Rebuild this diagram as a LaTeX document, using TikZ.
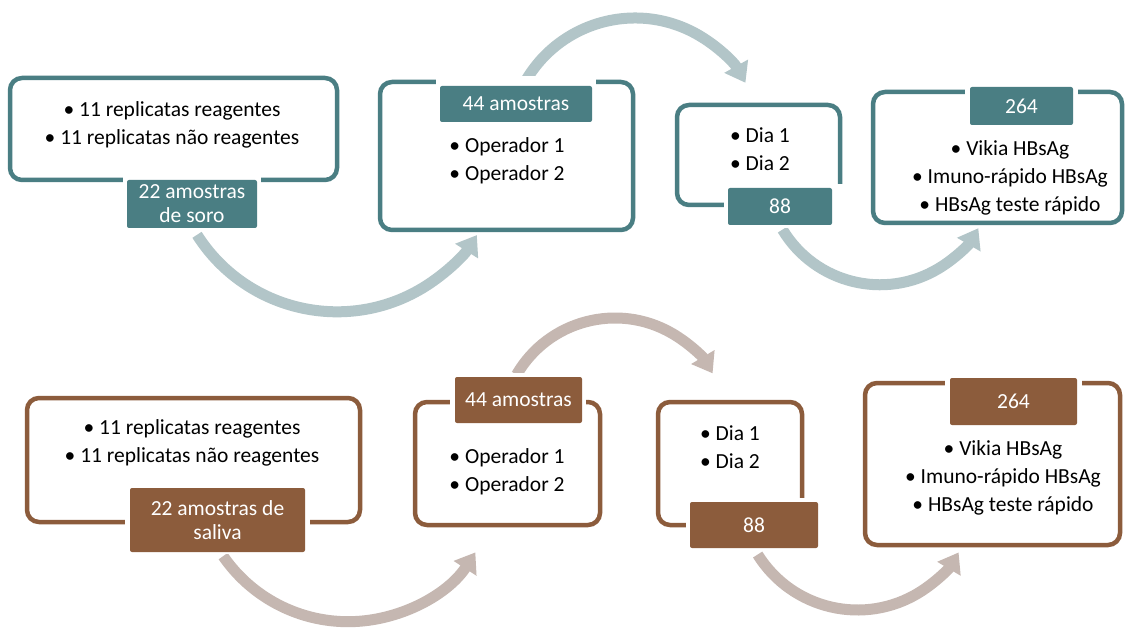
\documentclass[tikz,border=0pt]{standalone}
\usepackage{fontspec}
\setmainfont{Carlito}
\usetikzlibrary{arrows.meta}
\definecolor{tealdk}{RGB}{74,126,131}
\definecolor{tealarr}{RGB}{178,197,200}
\definecolor{browndk}{RGB}{140,92,60}
\definecolor{brownarr}{RGB}{197,183,177}
\begin{document}
\begin{tikzpicture}[x=1pt,y=-1pt,
  frame/.style={draw=#1, line width=4.5pt, rounded corners=12pt, fill=white, inner sep=0pt},
  tagbox/.style={fill=#1, text=white, rounded corners=2pt, inner sep=0pt, align=center,
                 font=\fontsize{21.5}{24}\selectfont},
  body/.style={align=center, inner sep=0pt, text=black, font=\fontsize{21.5}{28}\selectfont},
  flow/.style={draw=#1, line width=11pt, -{Triangle[width=26pt,length=19pt]}},
]
\fill[white] (0,0) rectangle (1127,628);
\useasboundingbox (0,0) rectangle (1127,628);

% ---------- curved arrows (drawn first, boxes sit on top) ----------
\path (337,146) ++(147.6:165.8) coordinate (ta1);
\path (635,144.5) ++(209.6:126.5) coordinate (ta2);
\path (880,171) ++(149:113.75) coordinate (ta3);
\path (348,470) ++(145.4:151.7) coordinate (ba1);
\path (615,431.75) ++(210.1:113.75) coordinate (ba2);
\path (857.5,492.4) ++(148.1:117.6) coordinate (ba3);

\draw[flow=tealarr] (ta1) arc[start angle=147.6, end angle=32.5, radius=165.8];
\draw[flow=tealarr] (ta2) arc[start angle=209.6, end angle=330.8, radius=126.5];
\draw[flow=tealarr] (ta3) arc[start angle=149, end angle=30.2, radius=113.75];
\draw[flow=brownarr] (ba1) arc[start angle=145.4, end angle=32.9, radius=151.7];
\draw[flow=brownarr] (ba2) arc[start angle=210.1, end angle=329.1, radius=113.75];
\draw[flow=brownarr] (ba3) arc[start angle=148.1, end angle=30.7, radius=117.6];

% ---------- serum row ----------
\node[frame=tealdk, minimum width=327pt, minimum height=102pt] (s1) at (173.5,129) {};
\node[frame=tealdk, minimum width=253pt, minimum height=148pt] (s2) at (506.5,156) {};
\node[frame=tealdk, minimum width=163pt, minimum height=100pt] (s3) at (758.5,155) {};
\node[frame=tealdk, minimum width=249pt, minimum height=131pt] (s4) at (997.5,157.5) {};

\fill[white] (123,172) rectangle (261,231);
\fill[white] (436,76) rectangle (596,124);
\fill[white] (724,184) rectangle (846,228);
\fill[white] (965,82) rectangle (1078,127);

\node[tagbox=tealdk, minimum width=130pt, minimum height=48pt] (s1t) at (192,204) {22 amostras\\de soro};
\node[tagbox=tealdk, minimum width=152pt, minimum height=36pt] (s2t) at (516,104) {44 amostras};
\node[tagbox=tealdk, minimum width=104pt, minimum height=37pt] (s3t) at (780,206.5) {88};
\node[tagbox=tealdk, minimum width=103pt, minimum height=38pt] (s4t) at (1021.5,106) {264};

\node[body] (s1b) at (172,125) {• 11 replicatas reagentes\\• 11 replicatas não reagentes};
\node[body] (s2b) at (507,161) {• Operador 1\\• Operador 2};
\node[body] (s3b) at (760,149) {• Dia 1\\• Dia 2};
\node[body] (s4b) at (1010,178) {• Vikia HBsAg\\• Imuno-rápido HBsAg\\• HBsAg teste rápido};

% ---------- saliva row ----------
\node[frame=browndk, minimum width=333pt, minimum height=124pt] (v1) at (193.5,460) {};
\node[frame=browndk, minimum width=185pt, minimum height=123pt] (v2) at (507.5,463.5) {};
\node[frame=browndk, minimum width=144pt, minimum height=123pt] (v3) at (730,463.5) {};
\node[frame=browndk, minimum width=255pt, minimum height=162pt] (v4) at (992.5,464) {};

\fill[white] (125,484) rectangle (310,554);
\fill[white] (450,373) rectangle (586,425);
\fill[white] (686,498) rectangle (822,550);
\fill[white] (945,374) rectangle (1082,427);

\node[tagbox=browndk, minimum width=175pt, minimum height=64pt] (v1t) at (217.5,520) {22 amostras de\\saliva};
\node[tagbox=browndk, minimum width=127pt, minimum height=46pt] (v2t) at (518.5,400) {44 amostras};
\node[tagbox=browndk, minimum width=128pt, minimum height=46pt] (v3t) at (754,525) {88};
\node[tagbox=browndk, minimum width=127pt, minimum height=47pt] (v4t) at (1013.5,401.5) {264};

\node[body] (v1b) at (192,443) {• 11 replicatas reagentes\\• 11 replicatas não reagentes};
\node[body] (v2b) at (507,472) {• Operador 1\\• Operador 2};
\node[body] (v3b) at (730,447) {• Dia 1\\• Dia 2};
\node[body] (v4b) at (1003,478) {• Vikia HBsAg\\• Imuno-rápido HBsAg\\• HBsAg teste rápido};
\end{tikzpicture}
\end{document}
